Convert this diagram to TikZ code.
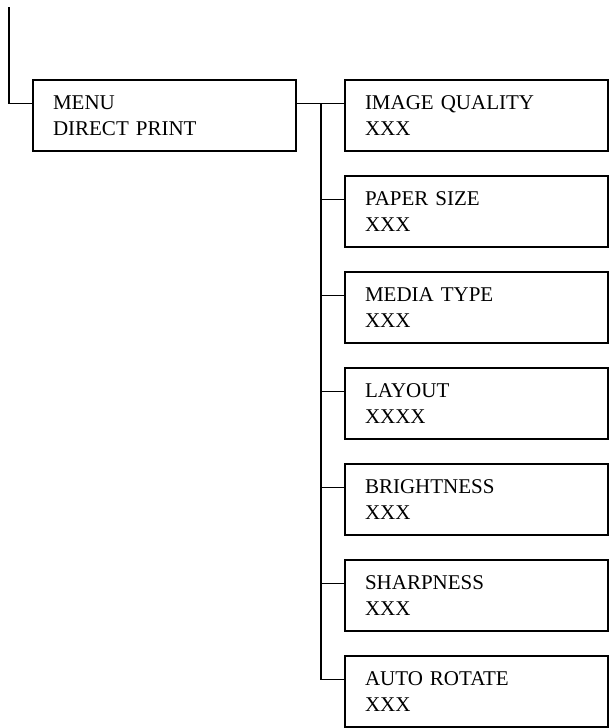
\documentclass[tikz,border=0pt]{standalone}
\usepackage{fontspec}
\setmainfont{Liberation Serif}
\begin{document}
\begin{tikzpicture}[x=1pt,y=-1pt,
  box/.style={draw, line width=1.5pt, rectangle, minimum width=263pt, minimum height=71pt,
    text width=223pt, inner xsep=20pt, inner ysep=0pt, outer sep=0pt, align=left, anchor=north west,
    font=\fontsize{21pt}{26pt}\selectfont},
  link/.style={line width=1.5pt}]
\useasboundingbox (0,0) rectangle (610,728);
\node[box] (menu) at (33,80) {MENU\\DIRECT PRINT};
\foreach \i/\t/\v in {1/IMAGE QUALITY/XXX, 2/PAPER SIZE/XXX, 3/MEDIA TYPE/XXX, 4/LAYOUT/XXXX, 5/BRIGHTNESS/XXX, 6/SHARPNESS/XXX, 7/AUTO ROTATE/XXX}{
  \node[box] (b\i) at (345,{80+96*(\i-1)}) {\t\\\v};
  \coordinate (p\i) at ([yshift=-23.5pt]b\i.north west);
}
\coordinate (top) at (9,7);
\coordinate (trunk) at (321,0);
\coordinate (min) at ([yshift=-23.5pt]menu.north west);
\coordinate (mout) at ([yshift=-23.5pt]menu.north east);
\draw[link] (top) |- (min);
\draw[link] (mout) -- (p1);
\draw[link] (trunk |- p1) -- (trunk |- p7);
\foreach \i in {2,...,7}{
  \draw[link] (trunk |- p\i) -- (p\i);
}
\end{tikzpicture}
\end{document}
